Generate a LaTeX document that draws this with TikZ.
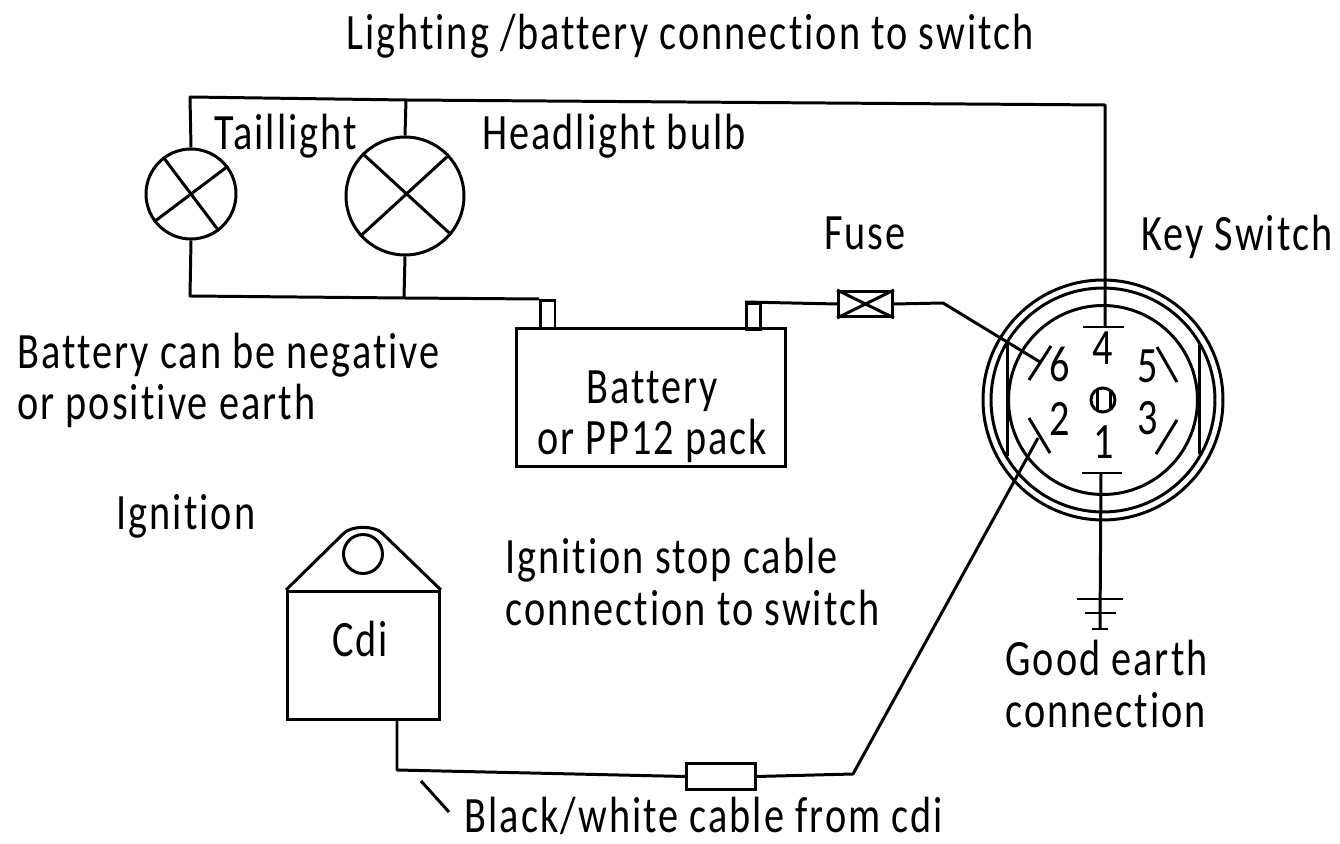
\documentclass[tikz,border=0pt]{standalone}
\usepackage{fontspec}
\setmainfont{Carlito}[LetterSpace=4,FakeStretch=0.79,Ligatures=NoCommon]
\tikzset{
	WireStyle/.style = {line width = 1.7pt, line join = round},
	BoxStyle/.style = {draw, line width = 1.7pt, inner sep = 0pt, anchor = north west},
	LampStyle/.style = {circle, draw, line width = 1.7pt, inner sep = 0pt},
	LabelStyle/.style = {font = \fontsize{29}{29.5}\selectfont, align = center, inner sep = 0pt, anchor = base}}
\begin{document}
\begin{tikzpicture}[x=0.02cm,y=-0.02cm]
\useasboundingbox (0,0) rectangle (1340,844);
% lamps
\node[LampStyle,minimum size=1.8cm] (Tail) at (191,194) {};
\node[LampStyle,minimum size=2.36cm] (Head) at (405,196) {};
\draw[WireStyle] (Tail.127) -- (Tail.307) (Tail.37) -- (Tail.217);
\draw[WireStyle] (Head.135) -- (Head.320) (Head.43) -- (Head.222);
% battery and fuse
\node[BoxStyle,minimum width=5.38cm,minimum height=2.76cm] (Batt) at (515,327) {};
\node[BoxStyle,minimum width=0.29cm,minimum height=0.56cm] (BattL) at (539,299) {};
\node[BoxStyle,minimum width=0.28cm,minimum height=0.52cm] (BattR) at (745,302) {};
\node[BoxStyle,minimum width=1.08cm,minimum height=0.5cm] (Fuse) at (837,290) {};
\draw[WireStyle] (Fuse.north west) -- (Fuse.south east) (Fuse.south west) -- (Fuse.north east);
% key switch
\coordinate (Key) at (1103,400);
\node[LampStyle,minimum size=4.8cm] (KeyA) at (Key) {};
\node[LampStyle,minimum size=4.48cm] (KeyB) at (Key) {};
\node[LampStyle,minimum size=3.78cm] (KeyC) at (Key) {};
\node[LampStyle,minimum size=0.48cm] (KeyO) at (Key) {};
\draw[WireStyle] (1097,390) -- (1097,410) (1110,390) -- (1110,410);
\draw[WireStyle] (1007,343) -- (1007,456) (1199,345) -- (1199,454);
\coordinate (Pin4a) at (1083,327); \coordinate (Pin4b) at (1124,327);
\coordinate (Pin1a) at (1082,473); \coordinate (Pin1b) at (1122,473);
\coordinate (Pin6a) at (1029,380); \coordinate (Pin6b) at (1051,346);
\coordinate (Pin2a) at (1029,418); \coordinate (Pin2b) at (1050,453);
\coordinate (Pin5a) at (1157,347); \coordinate (Pin5b) at (1177,382);
\coordinate (Pin3a) at (1177,420); \coordinate (Pin3b) at (1156,454);
\draw[WireStyle] (Pin4a) -- (Pin4b);
\draw[WireStyle] (Pin1a) -- (Pin1b);
\draw[WireStyle] (Pin6a) -- (Pin6b);
\draw[WireStyle] (Pin2a) -- (Pin2b);
\draw[WireStyle] (Pin5a) -- (Pin5b);
\draw[WireStyle] (Pin3a) -- (Pin3b);
\node[LabelStyle] (N4) at (1103,365) {4};
\node[LabelStyle] (N6) at (1060,382) {6};
\node[LabelStyle] (N5) at (1148,383) {5};
\node[LabelStyle] (N2) at (1060,436) {2};
\node[LabelStyle] (N3) at (1148,435) {3};
\node[LabelStyle] (N1) at (1104,459) {1};
% earth
\coordinate (EarthA) at (1101,473);
\coordinate (EarthB) at (1100,629);
\draw[WireStyle] (EarthA) -- (EarthB);
\draw[WireStyle] (1077,599) -- (1123,599) (1085,613) -- (1116,613) (1092,629) -- (1108,629);
% cdi
\node[BoxStyle,minimum width=3.04cm,minimum height=2.56cm] (Cdi) at (286,590) {};
\node[LampStyle,minimum size=0.78cm] (CdiO) at (363,554) {};
\draw[WireStyle] (Cdi.north west) -- (342,535) .. controls (350,525) and (375,525) .. (383,534) -- (Cdi.north east);
\node[BoxStyle,minimum width=1.38cm,minimum height=0.52cm] (Res) at (685,762) {};
% wires
\coordinate (TopL) at (190,97);
\coordinate (TopM) at (406,100);
\coordinate (TopR) at (1105,105);
\coordinate (BotL) at (190,296);
\coordinate (BotM) at (404,298);
\coordinate (FuseA) at (943,303);
\coordinate (Pin6w) at (1040,362);
\coordinate (CdiA) at (397,718);
\coordinate (CdiB) at (397,770);
\coordinate (ResA) at (853,774);
\coordinate (Pin2w) at (1038,438);
\draw[WireStyle] (Tail.north) -- (TopL) -- (TopM) -- (TopR) -- (Pin4a -| TopR);
\draw[WireStyle] (Head.north) -- (TopM);
\draw[WireStyle] (Tail.south) -- (BotL) -- (BotM) -- (BattL.north west);
\draw[WireStyle] (Head.south) -- (BotM);
\draw[WireStyle] (BattR.north west) -- (Fuse.west);
\draw[WireStyle] (Fuse.east) -- (FuseA) -- (Pin6w);
\draw[WireStyle] (CdiA) -- (CdiB) -- (Res.west);
\draw[WireStyle] (Res.east) -- (ResA) -- (Pin2w);
\coordinate (LeadA) at (421,781); \coordinate (LeadB) at (449,812);
\draw[WireStyle] (LeadA) -- (LeadB);
% labels
\node[LabelStyle] (Title) at (690,50) {Lighting /battery connection to switch};
\node[LabelStyle] (TailT) at (286,150) {Taillight};
\node[LabelStyle] (HeadT) at (614,150) {Headlight bulb};
\node[LabelStyle] (FuseT) at (865,250) {Fuse};
\node[LabelStyle] (KeyT) at (1237,251) {Key Switch};
\node[LabelStyle,align=left,anchor=base west] (Note) at (17,420) {Battery can be negative\\or positive earth};
\node[LabelStyle] (BattT) at (652,455) {Battery\\or PP12 pack};
\node[LabelStyle] (IgnT) at (186,530) {Ignition};
\node[LabelStyle,align=left,anchor=base west] (StopT) at (505,625) {Ignition stop cable\\connection to switch};
\node[LabelStyle] (CdiT) at (360,657) {Cdi};
\node[LabelStyle,align=left,anchor=base west] (EarthT) at (1005,727) {Good earth\\connection};
\node[LabelStyle] (CableT) at (704,832) {Black/white cable from cdi};
\end{tikzpicture}
\end{document}
